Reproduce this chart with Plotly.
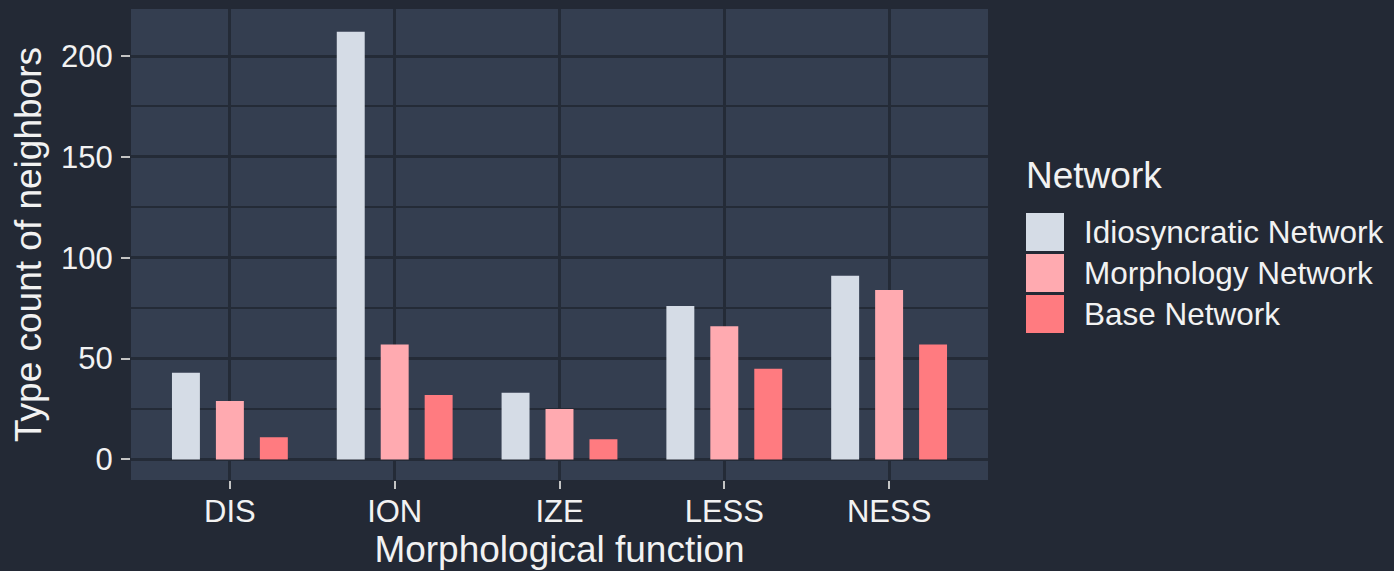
import plotly.graph_objects as go

# ---------------------------------------------------------------------------
# Data
# ---------------------------------------------------------------------------
categories = ["DIS", "ION", "IZE", "LESS", "NESS"]
idiosyncratic = [43, 212, 33, 76, 91]
morphology = [29, 57, 25, 66, 84]
base = [11, 32, 10, 45, 57]

series_names = ["Idiosyncratic Network", "Morphology Network", "Base Network"]
series_values = [idiosyncratic, morphology, base]
series_colors = ["#d5dce6", "#ffaab0", "#ff7b80"]

y_ticks = [0, 50, 100, 150, 200]

# ---------------------------------------------------------------------------
# Style
# ---------------------------------------------------------------------------
BG = "#232935"
PANEL = "#343e50"
GRID = "#242b37"
TEXT = "#f2f2f2"
FONT = "Liberation Sans, Arial, sans-serif"

W, H = 1394, 571
L, R, T, B = 131, 406, 9, 91

fig = go.Figure()
for name, vals, col in zip(series_names, series_values, series_colors):
    fig.add_trace(go.Bar(
        x=categories, y=vals, name=name,
        marker=dict(color=col, line=dict(width=0)),
        showlegend=False,
    ))

fig.update_layout(
    width=W, height=H,
    margin=dict(l=L, r=R, t=T, b=B),
    paper_bgcolor=BG, plot_bgcolor=PANEL,
    barmode="group", bargap=0.2, bargroupgap=0.364,
    font=dict(family=FONT, color=TEXT),
    showlegend=False,
)

fig.update_xaxes(
    range=[-0.6, 4.6],
    showgrid=True, gridcolor=GRID, gridwidth=2.5,
    ticks="outside", ticklen=8, tickwidth=2, tickcolor="#c4c4c4",
    tickfont=dict(size=31, color=TEXT), ticklabelstandoff=-4,
    title=dict(text="Morphological function", font=dict(size=37, color=TEXT), standoff=4),
    zeroline=False, showline=False,
)
fig.update_yaxes(
    range=[-10.2, 223.3],
    tickvals=y_ticks,
    showgrid=True, gridcolor=GRID, gridwidth=2.5,
    minor=dict(dtick=25, showgrid=True, gridcolor=GRID, gridwidth=2),
    ticks="outside", ticklen=9, tickwidth=2, tickcolor="#c4c4c4",
    tickfont=dict(size=31, color=TEXT), ticklabelstandoff=2,
    title=dict(text="Type count of neighbors", font=dict(size=37, color=TEXT), standoff=8),
    zeroline=False, showline=False,
)

# ---------------------------------------------------------------------------
# Legend drawn by hand so the keys match the large square swatches
# ---------------------------------------------------------------------------
pw, ph = W - L - R, H - T - B


def px_x(x):
    return (x - L) / pw


def px_y(y):
    return (H - B - y) / ph


fig.add_annotation(
    x=px_x(1024), y=px_y(175), xref="paper", yref="paper",
    text="Network", showarrow=False, xanchor="left", yanchor="middle",
    font=dict(size=37, color=TEXT),
)
key_top = 213
for i, (name, col) in enumerate(zip(series_names, series_colors)):
    y0 = key_top + i * 41
    fig.add_shape(
        type="rect", xref="paper", yref="paper",
        x0=px_x(1026), x1=px_x(1064), y0=px_y(y0 + 38), y1=px_y(y0),
        fillcolor=col, line=dict(width=0),
    )
    fig.add_annotation(
        x=px_x(1082), y=px_y(y0 + 19), xref="paper", yref="paper",
        text=name, showarrow=False, xanchor="left", yanchor="middle",
        font=dict(size=31.5, color=TEXT),
    )

fig.write_html(
    "out.html",
    config={"displayModeBar": False},
    post_script="document.body.style.margin='0';",
)
